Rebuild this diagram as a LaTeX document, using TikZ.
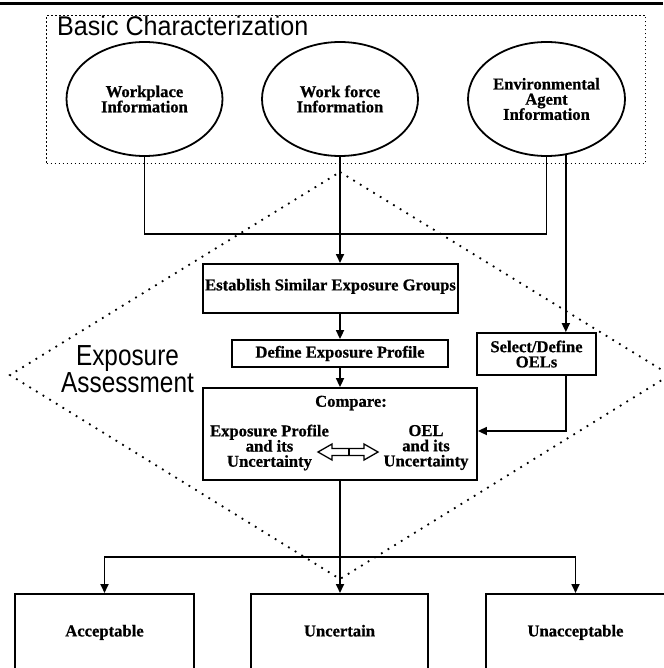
\documentclass[tikz,border=0pt]{standalone}
\usepackage{fontspec}
\setmainfont{Liberation Serif}[BoldFeatures={FakeBold=0.7}]
\newfontfamily\hvA{Liberation Sans}[FakeStretch=0.93]
\newfontfamily\hvB{Liberation Sans}[FakeStretch=0.84]
\usetikzlibrary{arrows.meta,shapes.geometric}
\begin{document}
\setlength{\lineskiplimit}{-20pt}
\begin{tikzpicture}[x=1pt,y=-1pt,
  lbl/.style={font=\bfseries\fontsize{16.6}{15.2}\selectfont, align=center, inner sep=0pt},
  ell/.style={draw, ellipse, line width=1.8pt, minimum width=156pt, minimum height=114pt, inner sep=0pt, lbl},
  box/.style={draw, line width=1.8pt, inner sep=0pt, lbl},
  outbox/.style={box, anchor=north, text height=42.5pt, text depth=54.5pt},
  con/.style={line width=1.7pt},
  arr/.style={line width=1.7pt, -{Triangle[length=9pt,width=8pt]}},
  finedots/.style={line width=1.4pt, dash pattern=on 1.4pt off 2.6pt},
  bigdots/.style={line width=1.8pt, dash pattern=on 1.8pt off 6pt}]
\useasboundingbox (0,0) rectangle (663,668);
% top rule
\draw[line width=3.5pt] (0,3.5) -- (663,3.5);
% basic characterization frame
\node[draw, finedots, minimum width=599pt, minimum height=148pt, inner sep=0pt] (frame) at (346,89.3) {};
\node[anchor=base west, inner sep=0pt, font=\hvA\fontsize{27}{27}\selectfont] (bctitle) at (57,36) {Basic Characterization};
% exposure assessment diamond
\draw[bigdots] (340,172) -- (670,375) -- (340,579) -- (10,375) -- cycle;
\node[anchor=north, inner sep=0pt, align=center, font=\hvB\fontsize{29}{27}\selectfont] (ea) at (127.5,345) {Exposure\\Assessment};
% ellipses
\node[ell] (wp) at (144.5,99) {Workplace\\Information};
\node[ell] (wf) at (340,99) {Work force\\Information};
\node[ell, minimum width=157pt] (env) at (546.5,99) {Environmental\\Agent\\Information};
% boxes
\node[box, anchor=north, minimum width=255pt, text height=26.5pt, text depth=22.5pt] (est) at (330.5,263) {Establish Similar Exposure Groups};
\node[box, minimum width=216pt, minimum height=27pt] (def) at (340,353.5) {Define Exposure Profile};
\node[box, minimum width=119pt, minimum height=42pt] (sel) at (536.5,354) {Select/Define\\OELs};
\node[box, minimum width=274pt, minimum height=92pt] (cmp) at (340,434) {};
\node[lbl] (cmpt) at (351,403) {Compare:};
\node[lbl] (epu) at (269.5,447.5) {Exposure Profile\\and its\\Uncertainty};
\node[lbl] (oelu) at (426,447.5) {OEL\\and its\\Uncertainty};
% double arrow
\draw[line width=1.3pt, fill=white] (318,452) -- (332,444) -- (332,448.5) -- (364,448.5) -- (364,444) -- (378,452) -- (364,460) -- (364,455.5) -- (332,455.5) -- (332,460) -- cycle;
\draw[line width=1.3pt] (349,448.5) -- (349,455.5);
% outcome boxes
\node[outbox, minimum width=179pt] (acc) at (104.5,593) {Acceptable};
\node[outbox, minimum width=177pt] (unc) at (339.5,593) {Uncertain};
\node[outbox, minimum width=179pt] (unac) at (575.5,593) {Unacceptable};
% connectors
\draw[con] (wp.south) -- (wp.south |- 0,234) -| (env.south);
\draw[arr] (wf.south) -- (wf.south |- est.north);
\draw[arr] (wf.south |- est.south) -- (def.north);
\draw[arr] (def.south) -- (cmp.north);
\coordinate (eb) at (env.-71);
\draw[arr] (eb) -- (eb |- sel.north);
\draw[arr] (eb |- sel.south) |- ([yshift=3pt]cmp.east);
\coordinate (split) at (cmp.south |- 0,557);
\draw[arr] (cmp.south) -- (cmp.south |- unc.north);
\draw[arr] (split) -| (acc.north);
\draw[arr] (split) -| (unac.north);
\end{tikzpicture}
\end{document}
